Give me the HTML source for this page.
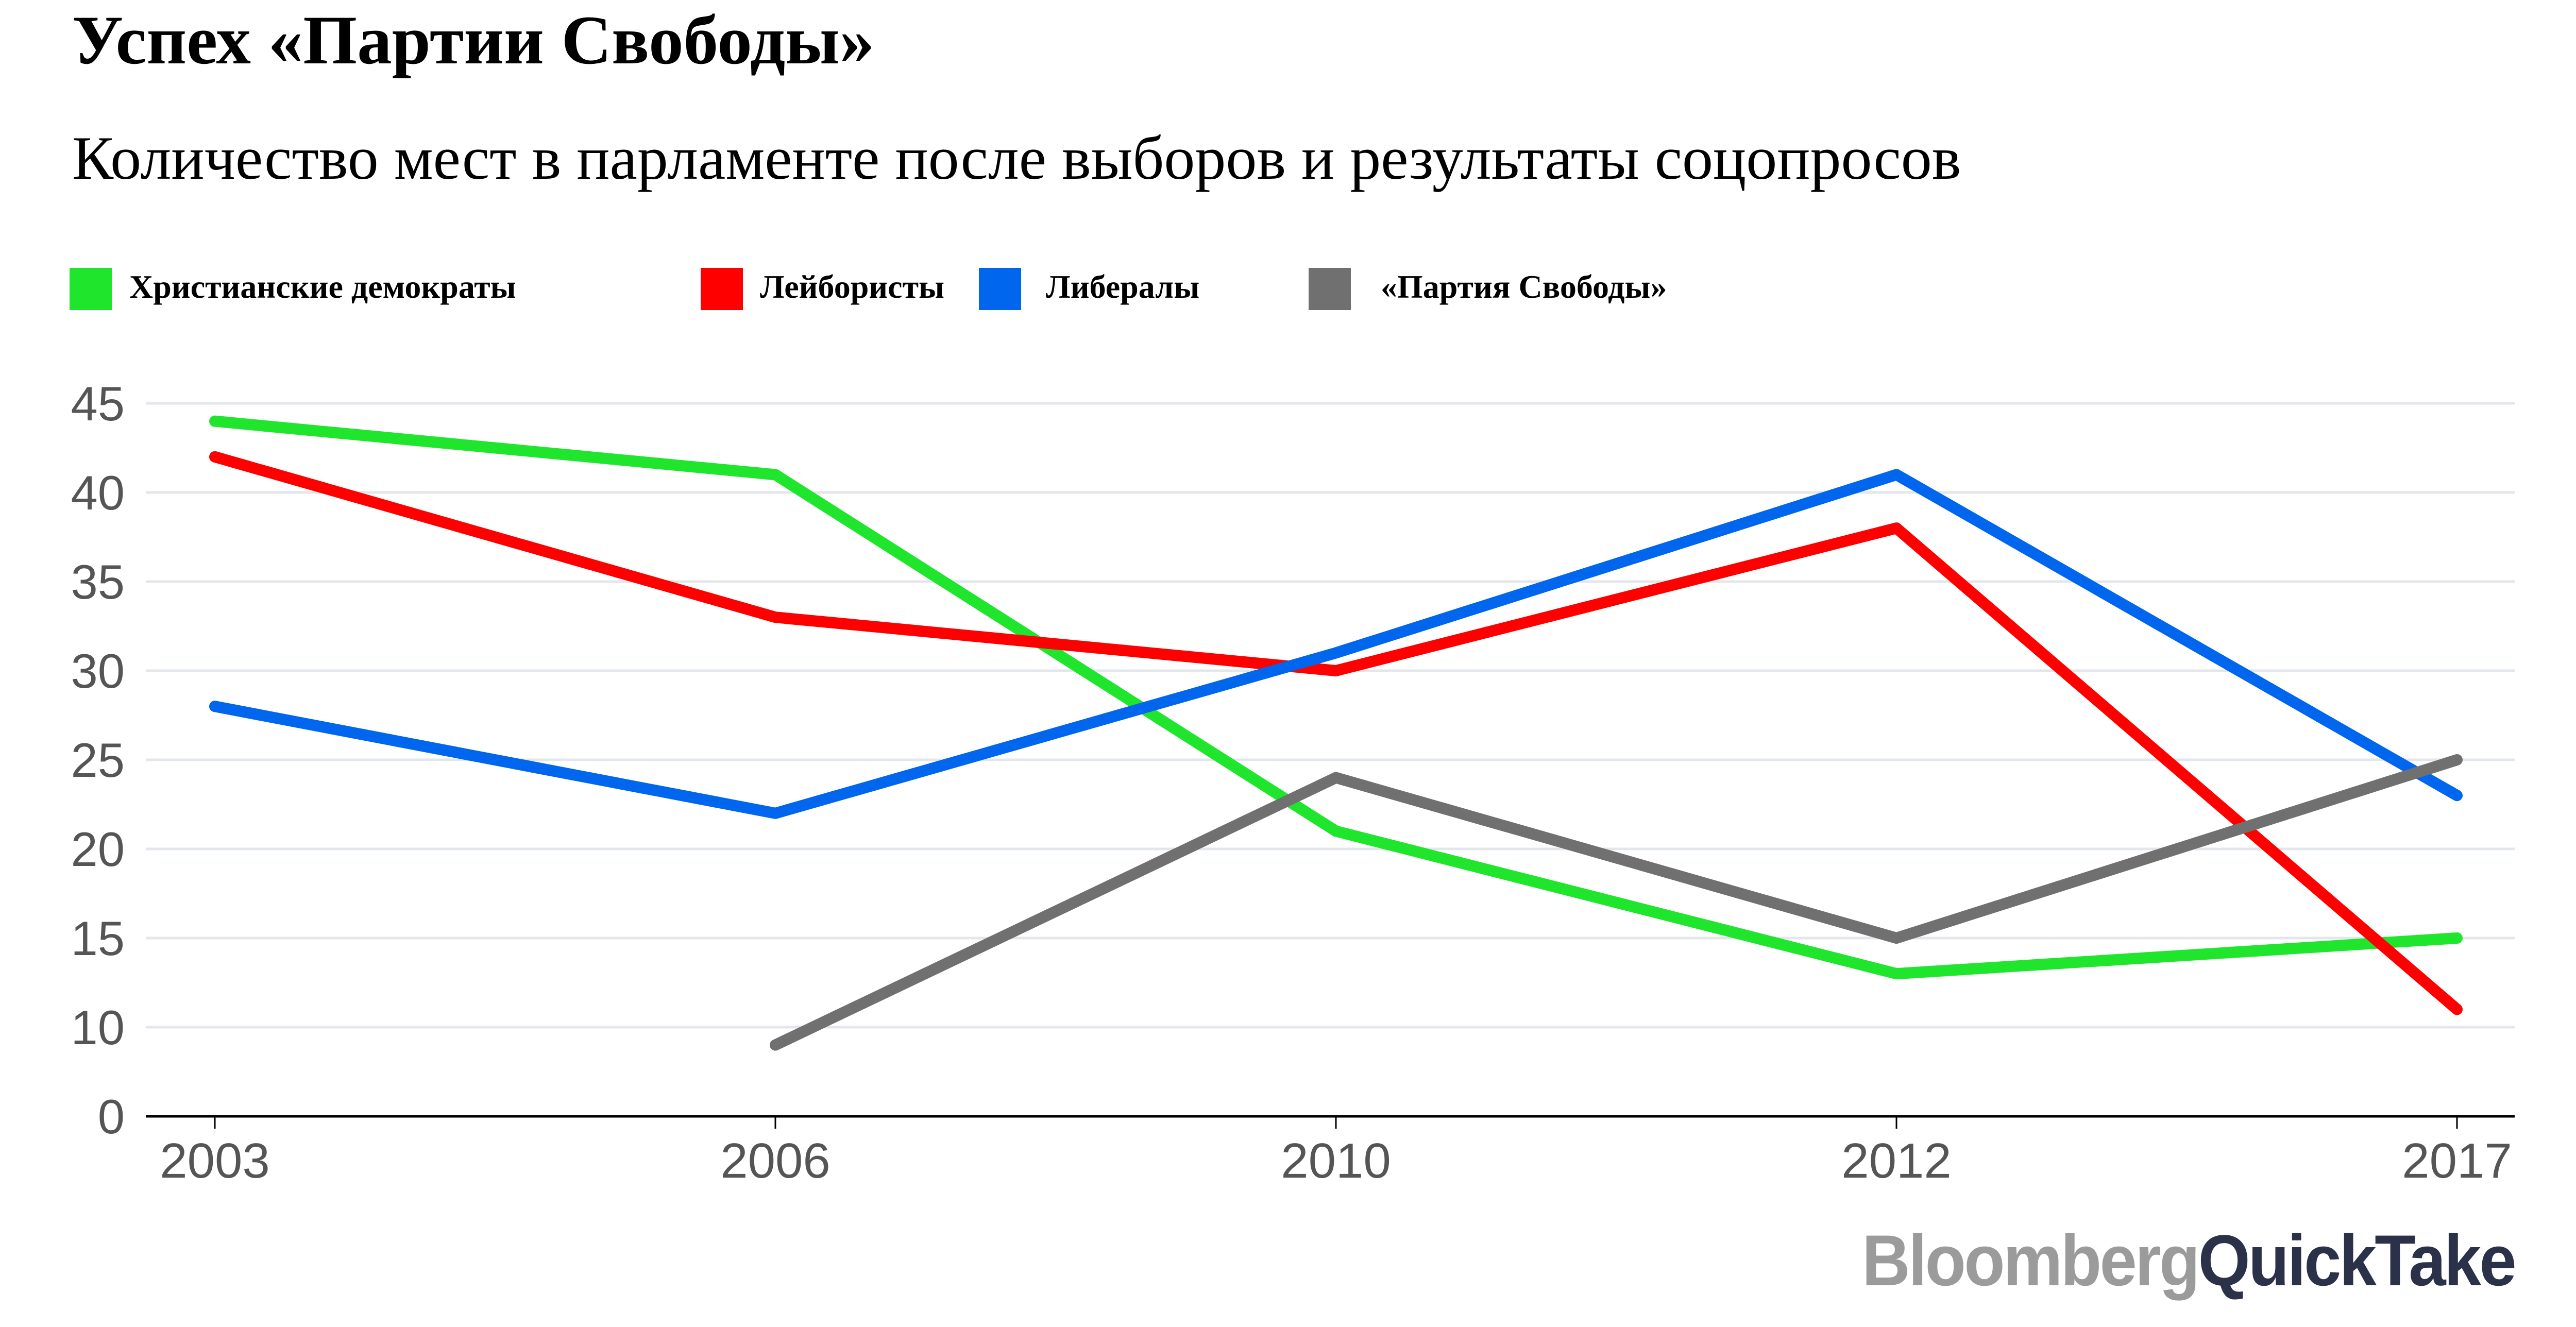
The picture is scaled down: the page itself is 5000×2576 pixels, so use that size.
<!DOCTYPE html>
<html><head><meta charset="utf-8"><style>
html,body{margin:0;padding:0;background:#fff;}
svg{display:block;}
</style></head><body>
<svg id="chart" width="5000" height="2576" viewBox="0 0 5000 2576" xmlns="http://www.w3.org/2000/svg">
<text x="140" y="123" font-family="'Liberation Serif', serif" font-weight="bold" font-size="135" fill="#000">Успех «Партии Свободы»</text>
<text x="140" y="347" font-family="'Liberation Serif', serif" font-size="120" fill="#000">Количество мест в парламенте после выборов и результаты соцопросов</text>
<g id="legend"></g>
<g id="grid"></g>
<g id="yaxis"></g>
<g id="xaxis"></g>
<g id="series"></g>
<text x="3614" y="2495" font-family="'Liberation Sans', sans-serif" font-weight="bold" font-size="140" textLength="1267" lengthAdjust="spacingAndGlyphs" letter-spacing="-4"><tspan fill="#9b9b9b">Bloomberg</tspan><tspan fill="#2a3149">QuickTake</tspan></text>
</svg>
<script>
const categories = ["2003","2006","2010","2012","2017"];
const christianDemocrats = [44, 41, 21, 13, 15];
const labour = [42, 33, 30, 38, 11];
const liberals = [28, 22, 31, 41, 23];
const freedomParty = [null, 9, 24, 15, 25];
const yTickValues = [5, 10, 15, 20, 25, 30, 35, 40, 45];
const yTickLabels = ["0","10","15","20","25","30","35","40","45"];
const legendLabels = ["Христианские демократы","Лейбористы","Либералы","«Партия Свободы»"];

const NS = "http://www.w3.org/2000/svg";
const X0 = 417, XSTEP = 1088;
function xScale(i){ return X0 + i*XSTEP; }
function yScale(v){ return 1994 - (v-10)*34.6; }
function mk(tag, attrs, parent){
  const e = document.createElementNS(NS, tag);
  for (const k in attrs) e.setAttribute(k, attrs[k]);
  parent.appendChild(e); return e;
}
const colors = ["#1fe62c","#ff0000","#0066ee","#707070"];
const seriesData = [christianDemocrats, labour, liberals, freedomParty];
const seriesNames = ["christian-democrats-line","labour-line","liberals-line","freedom-party-line"];

const legend = document.getElementById("legend");
const lsx = [135, 1360, 1900, 2540];
const ltx = [251, 1475, 2030, 2680];
legendLabels.forEach((lab,i)=>{
  const r = mk("rect",{x:lsx[i],y:520,width:82,height:82,fill:colors[i]},legend);
  
  
  const t = mk("text",{x:ltx[i],y:578,"font-family":"'Liberation Serif', serif","font-weight":"bold","font-size":"64",fill:"#000"},legend);
  t.textContent = lab;
  
  
});

const grid = document.getElementById("grid");
const yaxis = document.getElementById("yaxis");
yTickValues.forEach((v,i)=>{
  const y = yScale(v);
  if (i>0){
    const l = mk("line",{x1:283,x2:4881,y1:y,y2:y,stroke:"#e3e6ea","stroke-width":5},grid);
    
    
  }
  const t = mk("text",{x:242,y:y+33,"text-anchor":"end","font-family":"'Liberation Sans', sans-serif","font-size":"94",fill:"#555"},yaxis);
  t.textContent = yTickLabels[i];
  
  
});

const xaxis = document.getElementById("xaxis");
const by = yScale(5);
const base = mk("line",{x1:283,x2:4881,y1:by,y2:by,stroke:"#000","stroke-width":5},xaxis);


categories.forEach((c,i)=>{
  const x = xScale(i);
  const tk = mk("line",{x1:x,x2:x,y1:by,y2:by+24,stroke:"#000","stroke-width":3},xaxis);
  
  
  const t = mk("text",{x:x,y:2286,"text-anchor":"middle","font-family":"'Liberation Sans', sans-serif","font-size":"96",fill:"#555"},xaxis);
  t.textContent = c;
  
  
});

const sg = document.getElementById("series");
seriesData.forEach((arr,si)=>{
  let d = "";
  arr.forEach((v,i)=>{
    if (v===null) return;
    d += (d===""?"M":"L") + xScale(i) + " " + yScale(v) + " ";
  });
  const p = mk("path",{d:d,fill:"none",stroke:colors[si],"stroke-width":22,"stroke-linecap":"round","stroke-linejoin":"round"},sg);
  
  
});
</script>
</body></html>
